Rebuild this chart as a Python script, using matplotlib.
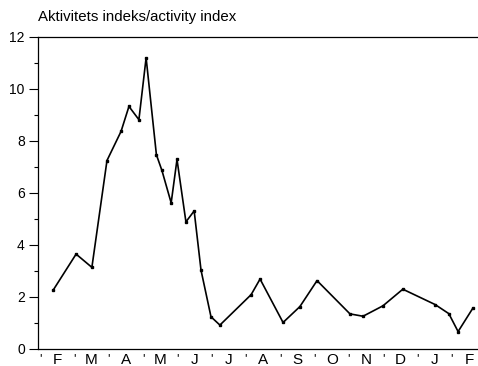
import numpy as np
import matplotlib
matplotlib.use('Agg')
from matplotlib import pyplot as plt

# months from Feb to Feb (month units, 0 = start of Feb)
month_labels = ['F', 'M', 'A', 'M', 'J', 'J', 'A', 'S', 'O', 'N', 'D', 'J', 'F']
tid = [0.38, 1.05, 1.51, 1.95, 2.36, 2.59, 2.88, 3.09, 3.39, 3.55, 3.82, 3.99,
       4.25, 4.49, 4.69, 4.98, 5.24, 6.15, 6.41, 7.08, 7.57, 8.07, 9.03, 9.41,
       9.99, 10.57, 11.51, 11.91, 12.18, 12.61]
indeks = [2.26, 3.65, 3.14, 7.25, 8.37, 9.33, 8.82, 11.2, 7.47, 6.87, 5.62, 7.29,
          4.89, 5.31, 3.03, 1.24, 0.92, 2.09, 2.69, 1.02, 1.63, 2.63, 1.35, 1.26,
          1.66, 2.30, 1.71, 1.36, 0.67, 1.57]

plt.rcParams['font.family'] = ['Liberation Sans', 'DejaVu Sans']

fig = plt.figure(figsize=(4.78, 3.66), dpi=100)
ax = fig.add_axes([38/478, 1 - 349/366, 1 - 38/478, (349 - 37)/366])

ax.plot(tid, indeks, color='black', linewidth=1.2, marker='s', markersize=2)

ax.set_xlim(-0.06, 12.76)
ax.set_ylim(0, 12)
ax.spines['right'].set_visible(False)
for s in ['top', 'left', 'bottom']:
    ax.spines[s].set_linewidth(0.9)

ax.set_yticks(np.arange(0, 13, 2))
ax.set_yticks(np.arange(1, 12, 2), minor=True)
ax.tick_params(axis='y', which='major', direction='out', length=6.5, width=0.8,
               pad=3, labelsize=10)
ax.tick_params(axis='y', which='minor', direction='out', length=3, width=0.8)

ax.set_xticks(np.arange(len(month_labels)) + 0.5)
ax.set_xticklabels(month_labels)
ax.set_xticks(np.arange(len(month_labels)), minor=True)
ax.set_xticklabels(["'"] * len(month_labels), minor=True)
ax.tick_params(axis='x', which='major', length=0, pad=3, labelsize=11)
ax.tick_params(axis='x', which='minor', length=0, pad=3, labelsize=9)

fig.text(38/478, 1 - 21/366, 'Aktivitets indeks/activity index', fontsize=10.8,
         ha='left', va='baseline')

plt.savefig('out.png', dpi=100)
